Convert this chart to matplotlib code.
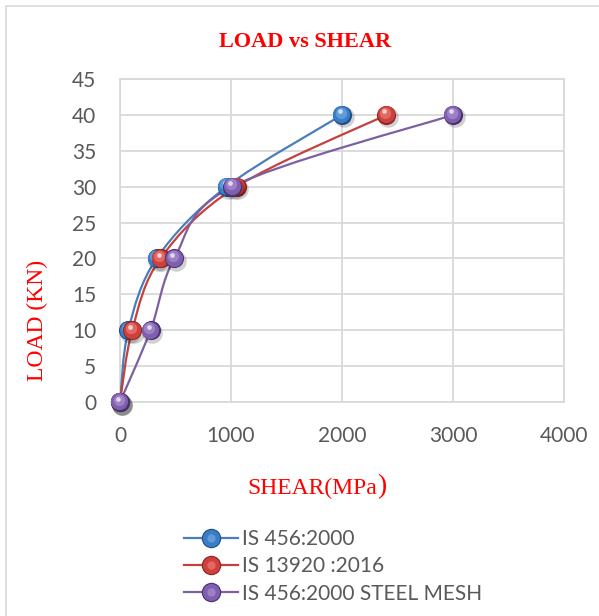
import matplotlib
matplotlib.use("Agg")
import matplotlib.pyplot as plt
import matplotlib.transforms as mtransforms
from matplotlib.path import Path
from matplotlib.patches import PathPatch, Rectangle
from matplotlib.lines import Line2D
from matplotlib.legend_handler import HandlerTuple

# data
load = [0, 10, 20, 30, 40]
shear_is456 = [0, 75, 330, 960, 2000]
shear_is13920 = [0, 110, 365, 1050, 2400]
shear_mesh = [0, 275, 490, 1010, 3000]
series_names = ["IS 456:2000", "IS 13920 :2016", "IS 456:2000 STEEL MESH"]
x_ticks = [0, 1000, 2000, 3000, 4000]
y_ticks = [0, 5, 10, 15, 20, 25, 30, 35, 40, 45]

# (dark, main, light, line)
palette = [
    ("#20508a", "#3a7cc6", "#7fb4ea", "#4a7ebb"),
    ("#8e2623", "#cf3f3b", "#f08a86", "#c4413d"),
    ("#4a3270", "#7f5fae", "#b89ddc", "#7d60a0"),
]

W, H = 599, 616
fig = plt.figure(figsize=(W / 100, H / 100), dpi=100)
fig.patch.set_facecolor("white")
fig.patches.append(Rectangle((6 / W, -0.1), 1.2, 1 - 6 / H + 0.1, transform=fig.transFigure,
                             fill=False, edgecolor="#d9d9d9", linewidth=1.2))

ax = fig.add_axes([120 / W, 1 - 402 / H, 444 / W, 323 / H])
ax.set_xlim(0, 4000)
ax.set_ylim(0, 45)
ax.set_xticks(x_ticks)
ax.set_yticks(y_ticks)
ax.grid(True, color="#d9d9d9", linewidth=1.3)
ax.set_axisbelow(True)
for sp in ax.spines.values():
    sp.set_color("#d9d9d9")
    sp.set_linewidth(1.3)
ax.tick_params(length=0, labelsize=15, labelcolor="#595959")
ax.tick_params(axis="x", pad=17)
ax.tick_params(axis="y", pad=17)
for lab in ax.get_xticklabels() + ax.get_yticklabels():
    lab.set_family("Lato")


def smooth_path(xs, ys):
    # Catmull-Rom style smoothing like Excel's "smoothed line"
    pts = list(zip(xs, ys))
    verts = [pts[0]]
    codes = [Path.MOVETO]
    n = len(pts)
    for i in range(n - 1):
        p0 = pts[i - 1] if i > 0 else pts[i]
        p1 = pts[i]
        p2 = pts[i + 1]
        p3 = pts[i + 2] if i + 2 < n else pts[i + 1]
        c1 = (p1[0] + (p2[0] - p0[0]) / 6, p1[1] + (p2[1] - p0[1]) / 6)
        c2 = (p2[0] - (p3[0] - p1[0]) / 6, p2[1] - (p3[1] - p1[1]) / 6)
        verts += [c1, c2, p2]
        codes += [Path.CURVE4] * 3
    return Path(verts, codes)


def off(dx, dy):
    return mtransforms.offset_copy(ax.transData, fig=fig, x=dx, y=dy, units="dots")


S = 190
all_x = [shear_is456, shear_is13920, shear_mesh]
for k, xs in enumerate(all_x):
    dark, main, light, lc = palette[k]
    ax.add_patch(PathPatch(smooth_path(xs, load), facecolor="none", edgecolor=lc,
                           linewidth=1.6, zorder=3 + k * 0.1))
for k, xs in enumerate(all_x):
    dark, main, light, lc = palette[k]
    z = 5 + k
    ax.scatter(xs, load, s=S * 1.15, color="black", alpha=0.18, linewidths=0,
               transform=off(1.5, -2.5), zorder=z, clip_on=False)
    ax.scatter(xs, load, s=S, color=dark, linewidths=0, zorder=z, clip_on=False)
    ax.scatter(xs, load, s=S * 0.8, color=main, linewidths=0,
               transform=off(-0.6, 0.6), zorder=z, clip_on=False)
    ax.scatter(xs, load, s=S * 0.35, color=light, linewidths=0, alpha=0.55,
               transform=off(-1.5, 2.2), zorder=z, clip_on=False)
    ax.scatter(xs, load, s=S * 0.06, color="white", linewidths=0, alpha=0.7,
               transform=off(-2, 3.5), zorder=z, clip_on=False)

handles = []
for k in range(3):
    dark, main, light, lc = palette[k]
    h = (Line2D([], [], color=lc, linewidth=1.6, marker="o", markersize=14,
                markerfacecolor=dark, markeredgewidth=0),
         Line2D([], [], linestyle="none", marker="o", markersize=12.3,
                markerfacecolor=main, markeredgewidth=0),
         Line2D([], [], linestyle="none", marker="o", markersize=6,
                markerfacecolor=light, markeredgewidth=0, alpha=0.55))
    handles.append(h)
fig.legend(handles, series_names, handler_map={tuple: HandlerTuple(ndivide=1, pad=0)},
           loc="upper left", bbox_to_anchor=(184 / W, 1 - 529 / H), frameon=False,
           handlelength=2.6, handletextpad=0.2, labelspacing=0.35, borderpad=0,
           borderaxespad=0, prop={"family": "Lato", "size": 15}, labelcolor="#595959")

fig.text(305 / W, 1 - 42 / H, "LOAD vs SHEAR", ha="center", va="center", color="red",
         fontsize=16, fontweight="bold", family="Liberation Serif")
fig.text(37 / W, 1 - 320 / H, "LOAD (KN)", ha="center", va="center", rotation=90,
         color="red", fontsize=17, family="Liberation Serif")
fig.text(377 / W, 1 - 488 / H, "SHEAR(MPa", ha="right", va="center", color="red",
         fontsize=17, family="Liberation Serif")
fig.text(377 / W, 1 - 487 / H, ")", ha="left", va="center", color="red",
         fontsize=20, family="Liberation Serif")

fig.savefig("out.png", dpi=100)
